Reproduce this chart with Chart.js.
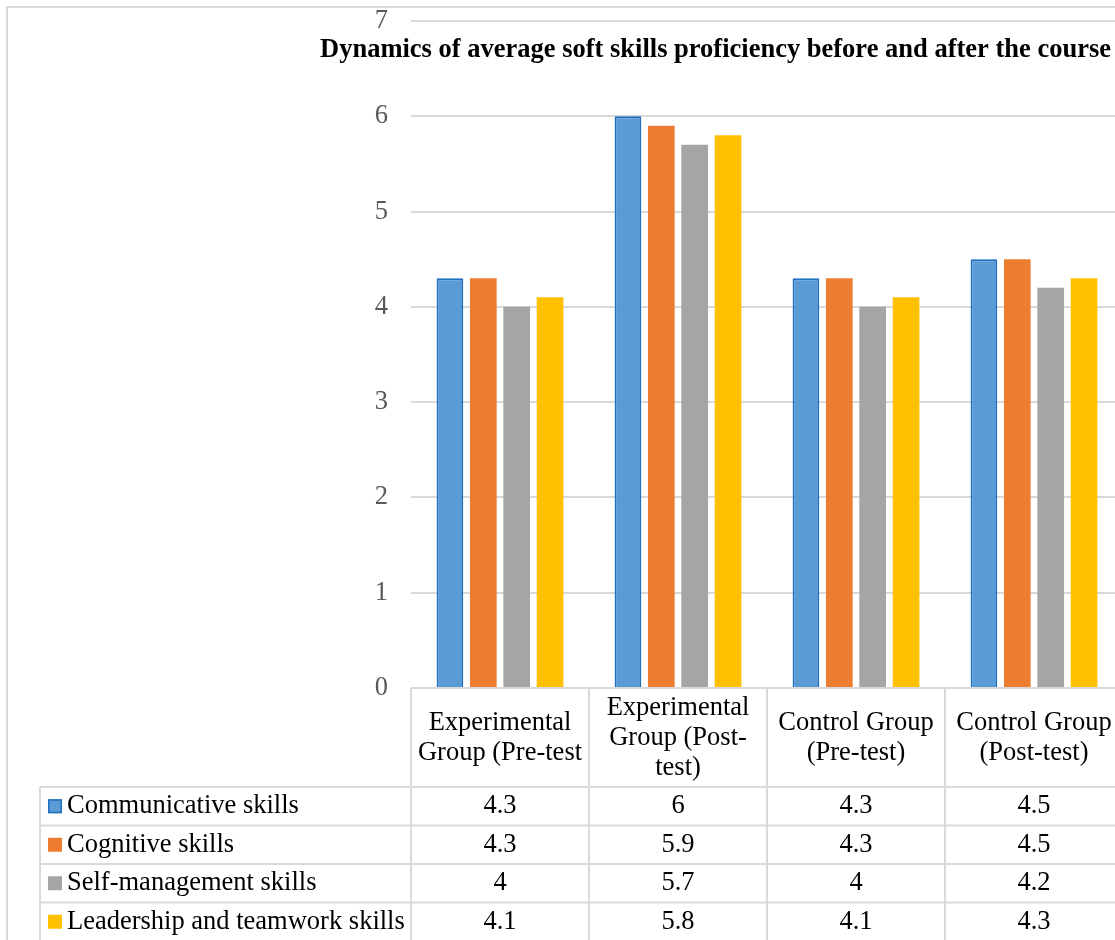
<!DOCTYPE html>
<html>
<head>
<meta charset="utf-8">
<title>Soft skills proficiency</title>
<script src="https://cdn.jsdelivr.net/npm/chart.js@4.4.0/dist/chart.umd.min.js"></script>
<style>
    html, body { margin: 0; padding: 0; background: #fff; overflow: hidden; }
    #wrap { width: 1115px; height: 940px; overflow: hidden; }
    canvas { display: block; }
</style>
</head>
<body>
<div id="wrap"><canvas id="skillsChart" width="1130" height="940"></canvas></div>
<script>
// Groups and skill scores
const groups = [
    ['Experimental', 'Group (Pre-test'],
    ['Experimental', 'Group (Post-', 'test)'],
    ['Control Group', '(Pre-test)'],
    ['Control Group', '(Post-test)']
];
const seriesNames = ['Communicative skills', 'Cognitive skills', 'Self-management skills', 'Leadership and teamwork skills'];
const communicative = [4.3, 6, 4.3, 4.5];
const cognitive = [4.3, 5.9, 4.3, 4.5];
const selfManagement = [4, 5.7, 4, 4.2];
const leadership = [4.1, 5.8, 4.1, 4.3];
const yTicks = [0, 1, 2, 3, 4, 5, 6, 7];

const seriesValues = [communicative, cognitive, selfManagement, leadership];
const fills = ['#5b9bd5', '#ed7d31', '#a5a5a5', '#ffc000'];
const edges = ['#1f6fc0', '#ed7d31', '#a5a5a5', '#ffc000'];
const gridColor = '#d9d9d9';
const serif = '"Liberation Serif", "Times New Roman", serif';
const textSize = 26.5;
const titleText = 'Dynamics of average soft skills proficiency before and after the course';

// Outer frame and title
const framePlugin = {
    id: 'frame',
    beforeDraw: (chart) => {
        const ctx = chart.ctx;
        ctx.save();
        ctx.strokeStyle = gridColor;
        ctx.lineWidth = 2;
        ctx.strokeRect(7, 7, 2000, 2000);
        ctx.restore();
    },
    afterDraw: (chart) => {
        const ctx = chart.ctx;
        ctx.save();
        ctx.font = 'bold 26.5px ' + serif;
        ctx.fillStyle = '#000';
        ctx.textAlign = 'center';
        ctx.textBaseline = 'alphabetic';
        ctx.fillText(titleText, 715.5, 57);
        ctx.restore();
    }
};

// Data table under the plot (header cells, legend keys and values)
const dataTablePlugin = {
    id: 'dataTable',
    afterDraw: (chart) => {
        const ctx = chart.ctx;
        const area = chart.chartArea;
        const x = chart.scales.x;
        const colW = (area.right - area.left) / groups.length;
        const top = area.bottom;
        const headerBottom = 787;
        const rowH = 38.5;
        const legendLeft = 40;
        const tableBottom = headerBottom + rowH * seriesNames.length;

        ctx.save();
        ctx.strokeStyle = gridColor;
        ctx.lineWidth = 2;
        ctx.beginPath();
        // header top line
        ctx.moveTo(area.left, top);
        ctx.lineTo(area.right, top);
        // row lines
        for (let r = 0; r <= seriesNames.length; r++) {
            const y = headerBottom + rowH * r;
            ctx.moveTo(legendLeft, y);
            ctx.lineTo(area.right, y);
        }
        // column lines
        ctx.moveTo(legendLeft, headerBottom);
        ctx.lineTo(legendLeft, tableBottom);
        for (let c = 0; c <= groups.length; c++) {
            const cx = area.left + colW * c;
            ctx.moveTo(cx, top);
            ctx.lineTo(cx, tableBottom);
        }
        ctx.stroke();

        ctx.fillStyle = '#000';
        ctx.font = textSize + 'px ' + serif;
        ctx.textAlign = 'center';
        ctx.textBaseline = 'middle';

        // header labels
        const lineH = 30;
        const headerMid = (top + headerBottom) / 2 + 1;
        groups.forEach((lines, i) => {
            const cx = x.getPixelForValue(i);
            const startY = headerMid - (lines.length - 1) * lineH / 2;
            lines.forEach((line, j) => ctx.fillText(line, cx, startY + j * lineH));
        });

        // legend keys and values
        seriesNames.forEach((name, r) => {
            const midY = headerBottom + rowH * r + rowH / 2;
            ctx.fillStyle = fills[r];
            ctx.fillRect(48, midY - 7, 14, 14);
            if (r === 0) {
                ctx.strokeStyle = edges[0];
                ctx.lineWidth = 1.5;
                ctx.strokeRect(48.75, midY - 6.25, 12.5, 12.5);
            }
            ctx.fillStyle = '#000';
            ctx.textAlign = 'left';
            ctx.fillText(name, 67, midY);
            ctx.textAlign = 'center';
            seriesValues[r].forEach((v, i) => {
                ctx.fillText(String(v), x.getPixelForValue(i), midY);
            });
        });
        ctx.restore();
    }
};

new Chart(document.getElementById('skillsChart'), {
    type: 'bar',
    data: {
        labels: groups.map(g => g.join(' ')),
        datasets: seriesNames.map((name, i) => ({
            label: name,
            data: seriesValues[i],
            backgroundColor: fills[i],
            borderColor: edges[i],
            borderWidth: i === 0 ? 2 : 0,
            categoryPercentage: 0.75,
            barPercentage: 0.8
        }))
    },
    options: {
        responsive: false,
        animation: false,
        layout: { padding: { left: 0, top: 21, right: 7, bottom: 252 } },
        plugins: {
            legend: { display: false },
            title: { display: false },
            tooltip: { enabled: false }
        },
        scales: {
            x: { display: false },
            y: {
                min: yTicks[0],
                max: yTicks[yTicks.length - 1],
                afterFit: (scale) => {
                    scale.width = 411;
                    scale.paddingTop = 0;
                    scale.paddingBottom = 0;
                },
                afterBuildTicks: (scale) => { scale.ticks = yTicks.map(v => ({ value: v })); },
                border: { display: false },
                grid: { color: gridColor, lineWidth: 2, drawTicks: false },
                ticks: {
                    padding: 23,
                    color: '#595959',
                    font: { family: serif, size: textSize }
                }
            }
        }
    },
    plugins: [framePlugin, dataTablePlugin]
});
</script>
</body>
</html>
